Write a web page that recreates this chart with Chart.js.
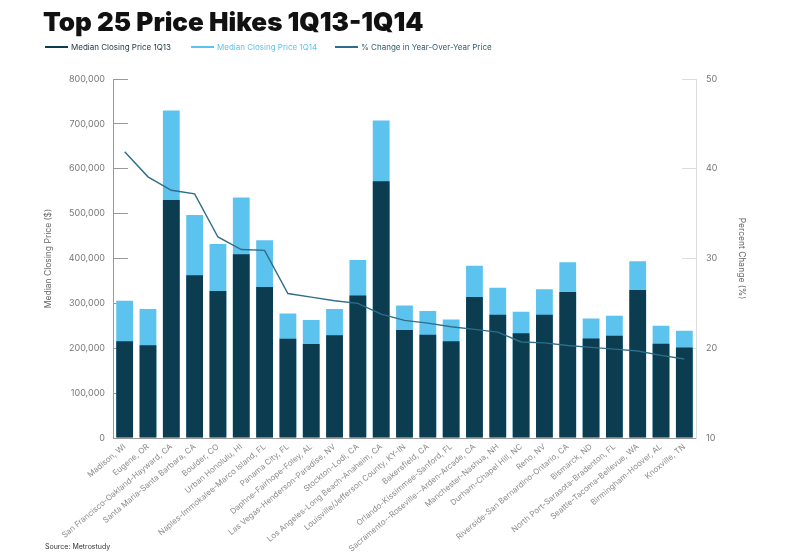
<!DOCTYPE html>
<html>
<head>
<meta charset="utf-8">
<script src="https://cdn.jsdelivr.net/npm/chart.js@4.4.1/dist/chart.umd.min.js"></script>
<style>
  body { margin: 0; background: #fff; font-family: Inter, "Liberation Sans", sans-serif; }
  #wrap { position: relative; width: 800px; height: 553px; overflow: hidden; }
  #chart { position: absolute; left: 0; top: 0; }
  #title { position: absolute; left: 43px; top: 6px; font-size: 26px; line-height: 32px; font-weight: 900; color: #111; letter-spacing: 0; white-space: nowrap; }
  .leg { position: absolute; top: 42px; font-size: 8px; white-space: nowrap; display: flex; align-items: center; }
  .leg i { display: inline-block; width: 23px; height: 1.6px; margin-right: 3px; }
  #source { position: absolute; left: 45px; top: 542px; font-size: 7px; color: #333; }
</style>
</head>
<body>
<div id="wrap">
  <canvas id="chart" width="800" height="553"></canvas>
  <div id="title">Top 25 Price Hikes 1Q13-1Q14</div>
  <div class="leg" style="left:45px;color:#1d3440"><i style="background:#0c3c50"></i>Median Closing Price 1Q13</div>
  <div class="leg" style="left:191px;color:#5cc3ef"><i style="background:#5cc3ef"></i>Median Closing Price 1Q14</div>
  <div class="leg" style="left:335px;color:#2f5d72"><i style="background:#2f6d88"></i>% Change in Year-Over-Year Price</div>
  <div id="source">Source: Metrostudy</div>
</div>
<script>
const cities = [
    'Madison, WI', 'Eugene, OR', 'San Francisco-Oakland-Hayward, CA', 'Santa Maria-Santa Barbara, CA',
    'Boulder, CO', 'Urban Honolulu, HI', 'Naples-Immokalee-Marco Island, FL', 'Panama City, FL',
    'Daphne-Fairhope-Foley, AL', 'Las Vegas-Henderson-Paradise, NV', 'Stockton-Lodi, CA',
    'Los Angeles-Long Beach-Anaheim, CA', 'Louisville/Jefferson County, KY-IN', 'Bakersfield, CA',
    'Orlando-Kissimmee-Sanford, FL', 'Sacramento--Roseville--Arden-Arcade, CA', 'Manchester-Nashua, NH',
    'Durham-Chapel Hill, NC', 'Reno, NV', 'Riverside-San Bernardino-Ontario, CA', 'Bismarck, ND',
    'North Port-Sarasota-Bradenton, FL', 'Seattle-Tacoma-Bellevue, WA', 'Birmingham-Hoover, AL', 'Knoxville, TN',
];
const price1Q13 = [215800, 206900, 530600, 362500, 327500, 409400, 336400, 221000, 209200, 229200, 317800, 572300, 240400,
    229900, 215800, 314100, 274600, 233700, 274600, 325200, 221900, 227700, 329700, 209800, 201800];
const price1Q14 = [305800, 287300, 730000, 497100, 432400, 535700, 440600, 277700, 262700, 287300, 396700, 707600, 295500,
    282800, 264300, 384000, 334800, 281300, 331200, 391500, 266500, 272300, 393800, 250000, 238800];
const pctChange = [41.9, 39.1, 37.6, 37.2, 32.4, 31.0, 30.9, 26.1, 25.7, 25.3, 25.0, 23.8, 23.1,
    22.8, 22.4, 22.1, 21.8, 20.7, 20.6, 20.3, 20.1, 19.9, 19.7, 19.2, 18.8];
const priceTicks = { min: 0, max: 800000, step: 100000 };
const pctTicks = { min: 10, max: 50, step: 10 };

const ctx = document.getElementById('chart').getContext('2d');
const chart = new Chart(ctx, {
    data: {
        labels: cities,
        datasets: [{
            type: 'line',
            label: '% Change in Year-Over-Year Price',
            data: pctChange,
            yAxisID: 'y1',
            borderColor: '#2f6d88',
            borderWidth: 1.4,
            pointRadius: 0,
            tension: 0,
            order: 0,
        }, {
            type: 'bar',
            label: 'Median Closing Price 1Q13',
            data: price1Q13,
            yAxisID: 'y',
            backgroundColor: '#0c3c50',
            barPercentage: 0.72,
            categoryPercentage: 1,
            order: 1,
        }, {
            type: 'bar',
            label: 'Median Closing Price 1Q14',
            data: price1Q14,
            yAxisID: 'y',
            backgroundColor: '#5cc3ef',
            barPercentage: 0.72,
            categoryPercentage: 1,
            order: 2,
        }],
    },
    options: {
        responsive: false,
        animation: false,
        layout: { padding: { left: 43, right: 50, top: 79, bottom: 0 } },
        plugins: { legend: { display: false }, tooltip: { enabled: false } },
        scales: {
            x: {
                stacked: true,
                grid: { display: false, drawTicks: false },
                border: { color: '#999' },
                ticks: {
                    autoSkip: false, minRotation: 40, maxRotation: 40, padding: 4,
                    color: '#8a8a8a', font: { family: 'Inter', size: 8 },
                },
                afterFit: (s) => { s.height = 115; },
            },
            y: {
                position: 'left',
                min: priceTicks.min,
                max: priceTicks.max,
                grid: { drawOnChartArea: false, tickLength: -15, color: '#999' },
                border: { color: '#999' },
                ticks: {
                    stepSize: priceTicks.step, padding: 23, color: '#777',
                    font: { family: 'Inter', size: 9 },
                    callback: (v) => v.toLocaleString('en-US'),
                },
                title: { display: true, text: 'Median Closing Price ($)', color: '#666', padding: 0, font: { family: 'Inter', size: 8.5 } },
                afterFit: (s) => { s.width = 70; },
            },
            y1: {
                position: 'right',
                min: pctTicks.min,
                max: pctTicks.max,
                grid: { drawOnChartArea: false, tickLength: -14, color: '#ddd' },
                border: { color: '#ddd' },
                ticks: { stepSize: pctTicks.step, padding: 24, color: '#777', font: { family: 'Inter', size: 9 } },
                title: { display: true, text: 'Percent Change (%)', color: '#666', padding: 3, font: { family: 'Inter', size: 8.5 } },
                afterFit: (s) => { s.width = 54; },
            },
        },
    },
});
</script>
</body>
</html>
